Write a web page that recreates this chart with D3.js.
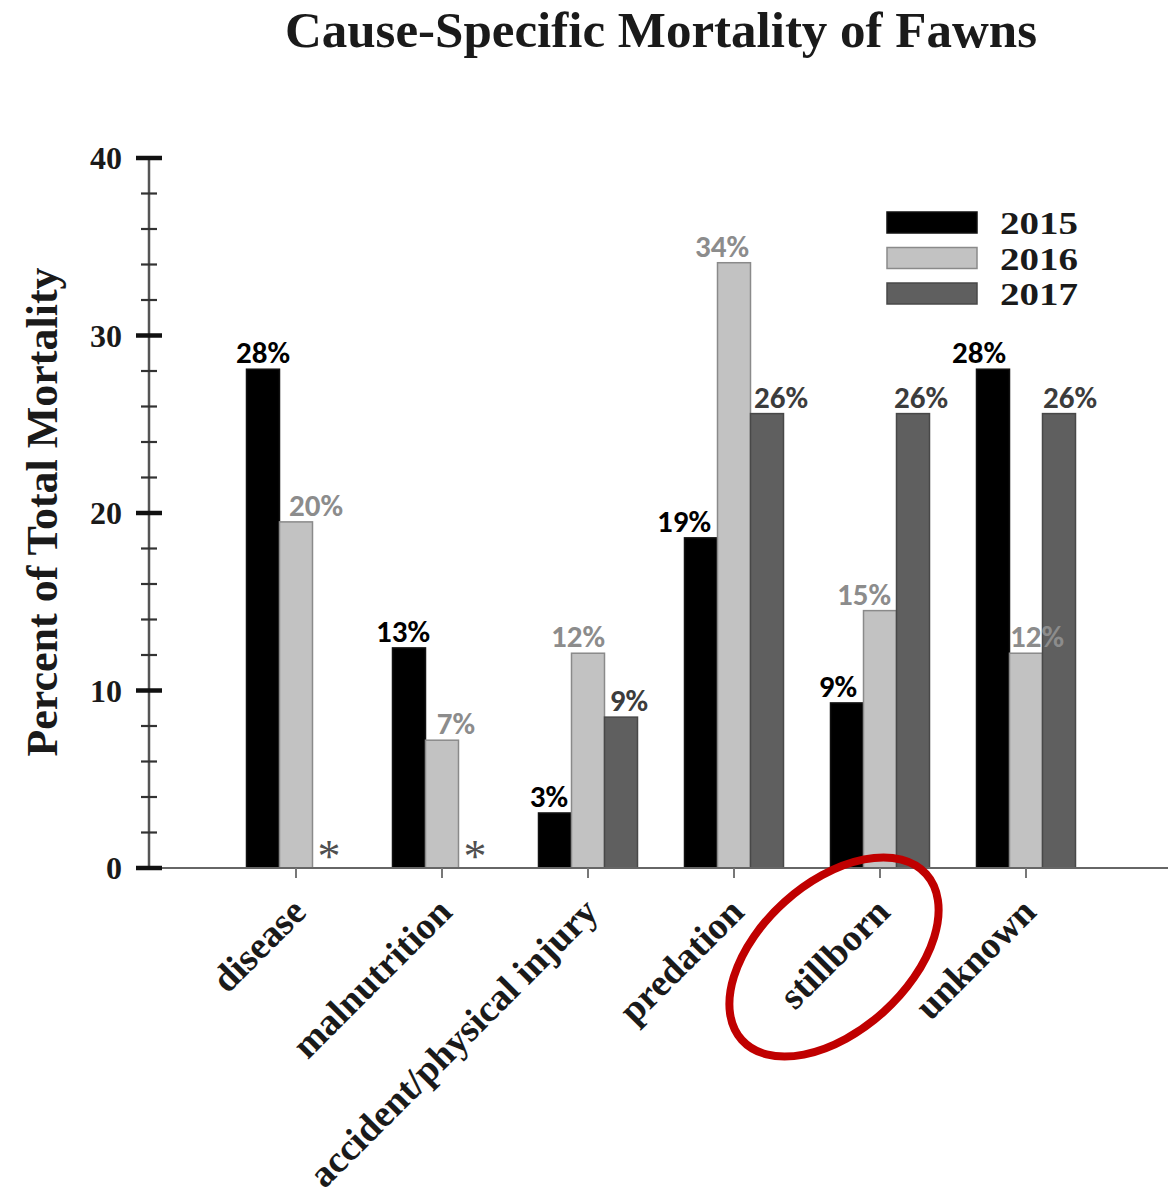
<!DOCTYPE html>
<html>
<head>
<meta charset="utf-8">
<script src="https://cdn.jsdelivr.net/npm/d3@7"></script>
<style>
  html, body { margin: 0; padding: 0; background: #fff; }
  svg { display: block; }
</style>
</head>
<body>
<svg id="chart" width="1168" height="1196"></svg>
<script>
// ---------- data ----------
const categories = ["disease", "malnutrition", "accident/physical injury", "predation", "stillborn", "unknown"];
const years = ["2015", "2016", "2017"];
const values2015 = [28.1, 12.4, 3.1, 18.6, 9.3, 28.1];
const values2016 = [19.5, 7.2, 12.1, 34.1, 14.5, 12.1];
const values2017 = [null, null, 8.5, 25.6, 25.6, 25.6];   // null = "*" (no data)
const labels2015 = ["28%", "13%", "3%", "19%", "9%", "28%"];
const labels2016 = ["20%", "7%", "12%", "34%", "15%", "12%"];
const labels2017 = ["", "", "9%", "26%", "26%", "26%"];
const majorTicks = [0, 10, 20, 30, 40];
const minorTicks = [2, 4, 6, 8, 12, 14, 16, 18, 22, 24, 26, 28, 32, 34, 36, 38];
const highlighted = "stillborn";

// ---------- styles ----------
const fillColors = {"2015": "#000000", "2016": "#c2c2c2", "2017": "#5f5f5f"};
const strokeColors = {"2015": "#111111", "2016": "#8a8a8a", "2017": "#484848"};
const labelColors = {"2015": "#000000", "2016": "#8c8c8c", "2017": "#3c3c3c"};
// small manual label nudges (px) as in the original figure
const labelNudge = {
  "2015": [0, -6, -6, -17, -9, -14],
  "2016": [20, 14, -10, -12, -16, 11],
  "2017": [0, 0, 8, 14, 8, 11]
};
const serif = "'Liberation Serif', 'Times New Roman', serif";
const sans = "Carlito, Lato, 'Open Sans', sans-serif";

const series = {"2015": values2015, "2016": values2016, "2017": values2017};
const seriesLabels = {"2015": labels2015, "2016": labels2016, "2017": labels2017};

const svg = d3.select("#chart");

// ---------- scales ----------
const y = d3.scaleLinear().domain([0, 40]).range([868, 158]);
const x = d3.scaleBand().domain(categories).range([223, 1099]).padding(0);
const xi = d3.scaleBand().domain(years).range([-49.5, 49.5]).padding(0);
const cx = c => x(c) + x.bandwidth() / 2;
const axisX = 149;

// ---------- title ----------
svg.append("text")
  .attr("x", 661).attr("y", 47)
  .attr("text-anchor", "middle")
  .style("font-family", serif).style("font-weight", "bold").style("font-size", "51px")
  .attr("fill", "#1a1a1a")
  .text("Cause-Specific Mortality of Fawns");

// ---------- y-axis title ----------
svg.append("text")
  .attr("transform", `translate(57,${(y(0) + y(40)) / 2 - 1}) rotate(-90)`)
  .attr("text-anchor", "middle")
  .style("font-family", serif).style("font-weight", "bold").style("font-size", "44px")
  .attr("fill", "#1a1a1a")
  .text("Percent of Total Mortality");

// ---------- bars ----------
const barData = [];
categories.forEach((c, i) => {
  years.forEach(yr => {
    barData.push({cat: c, year: yr, value: series[yr][i], label: seriesLabels[yr][i], nudge: labelNudge[yr][i]});
  });
});

svg.append("g").selectAll("rect")
  .data(barData.filter(d => d.value !== null))
  .join("rect")
  .attr("x", d => cx(d.cat) + xi(d.year))
  .attr("y", d => y(d.value))
  .attr("width", xi.bandwidth())
  .attr("height", d => y(0) - y(d.value))
  .attr("fill", d => fillColors[d.year])
  .attr("stroke", d => strokeColors[d.year])
  .attr("stroke-width", 1.5);

// value labels
svg.append("g").selectAll("text")
  .data(barData.filter(d => d.value !== null))
  .join("text")
  .attr("x", d => cx(d.cat) + xi(d.year) + xi.bandwidth() / 2 + d.nudge)
  .attr("y", d => y(d.value) - 6)
  .attr("text-anchor", "middle")
  .style("font-family", sans).style("font-weight", "bold").style("font-size", "31px")
  .attr("fill", d => labelColors[d.year])
  .text(d => d.label);

// asterisks for missing values
svg.append("g").selectAll("text")
  .data(barData.filter(d => d.value === null))
  .join("text")
  .attr("x", d => cx(d.cat) + xi(d.year) + xi.bandwidth() / 2)
  .attr("y", y(0) + 4)
  .attr("text-anchor", "middle")
  .style("font-family", serif).style("font-size", "46px")
  .attr("fill", "#505050")
  .text("*");

// ---------- x axis ----------
svg.append("line")
  .attr("x1", 136).attr("x2", 1168)
  .attr("y1", y(0)).attr("y2", y(0))
  .attr("stroke", "#666").attr("stroke-width", 2);

svg.append("g").selectAll("line")
  .data(categories)
  .join("line")
  .attr("x1", d => cx(d)).attr("x2", d => cx(d))
  .attr("y1", y(0)).attr("y2", y(0) + 10)
  .attr("stroke", "#777").attr("stroke-width", 2);

svg.append("g").selectAll("text")
  .data(categories)
  .join("text")
  .attr("transform", d => `translate(${cx(d) + 12},${y(0) + 46}) rotate(-45)`)
  .attr("text-anchor", "end")
  .style("font-family", serif).style("font-weight", "bold").style("font-size", "38px")
  .attr("fill", "#1a1a1a")
  .text(d => d);

// ---------- y axis ----------
svg.append("line")
  .attr("x1", axisX).attr("x2", axisX)
  .attr("y1", y(40)).attr("y2", y(0))
  .attr("stroke", "#555").attr("stroke-width", 2.5);

svg.append("g").selectAll("line")
  .data(minorTicks)
  .join("line")
  .attr("x1", axisX - 8).attr("x2", axisX + 8)
  .attr("y1", d => y(d)).attr("y2", d => y(d))
  .attr("stroke", "#333").attr("stroke-width", 2.2);

svg.append("g").selectAll("line")
  .data(majorTicks)
  .join("line")
  .attr("x1", axisX - 13).attr("x2", axisX + 13)
  .attr("y1", d => y(d)).attr("y2", d => y(d))
  .attr("stroke", "#111").attr("stroke-width", 4.5);

svg.append("g").selectAll("text")
  .data(majorTicks)
  .join("text")
  .attr("x", 122)
  .attr("y", d => y(d) + 11)
  .attr("text-anchor", "end")
  .style("font-family", serif).style("font-weight", "bold").style("font-size", "32px")
  .attr("fill", "#1a1a1a")
  .text(d => d);

// ---------- legend ----------
const legend = svg.append("g");
years.forEach((yr, i) => {
  legend.append("rect")
    .attr("x", 887).attr("y", 212 + i * 35.5)
    .attr("width", 90).attr("height", 21)
    .attr("fill", fillColors[yr])
    .attr("stroke", strokeColors[yr]).attr("stroke-width", 1.5);
  legend.append("text")
    .attr("x", 1000).attr("y", 234 + i * 35.5)
    .attr("textLength", 78).attr("lengthAdjust", "spacingAndGlyphs")
    .style("font-family", serif).style("font-weight", "bold").style("font-size", "31px")
    .attr("fill", "#1a1a1a")
    .text(yr);
});

// ---------- highlight ellipse ----------
svg.append("ellipse")
  .attr("cx", cx(highlighted) - 46)
  .attr("cy", y(0) + 89)
  .attr("rx", 124).attr("ry", 74)
  .attr("transform", `rotate(-42,${cx(highlighted) - 46},${y(0) + 89})`)
  .attr("fill", "none")
  .attr("stroke", "#c00000")
  .attr("stroke-width", 8);
</script>
</body>
</html>
